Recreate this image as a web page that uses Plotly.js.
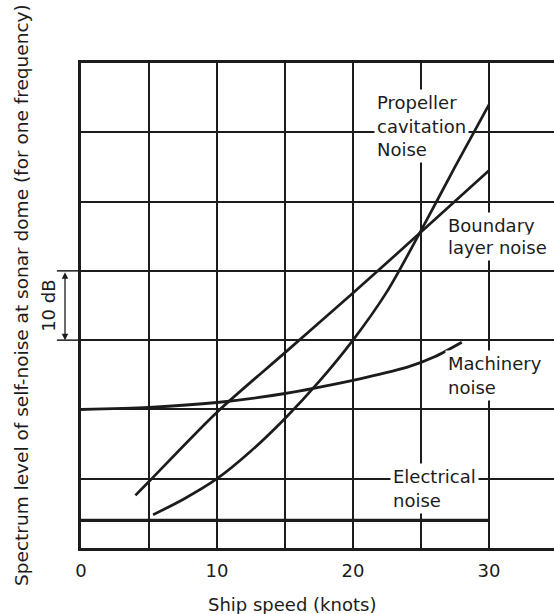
<!DOCTYPE html>
<html>
<head>
<meta charset="utf-8">
<script src="https://cdn.plot.ly/plotly-3.0.1.min.js"></script>
<style>html,body{margin:0;padding:0;background:#fff;}#chart{width:554px;height:614px;}</style>
</head>
<body>
<div id="chart"></div>
<script>
// Ship speed (knots) and self-noise level (dB, relative; grid = 10 dB)
const propellerX = [5.3, 7.5, 10, 12.5, 15, 17.5, 20, 22.5, 25, 27.5, 30];
const propellerY = [4.8, 7.0, 10.0, 14.0, 18.7, 24.0, 30.0, 37.0, 45.8, 55.0, 64.0];
const boundaryX = [4, 5, 10, 15, 20, 25, 30];
const boundaryY = [7.6, 9.6, 19.6, 28.2, 36.8, 45.6, 54.5];
const machineryX = [0, 5, 10, 15, 20, 22, 24, 26, 28];
const machineryY = [20.0, 20.3, 21.0, 22.3, 24.2, 25.1, 26.1, 27.6, 29.7];
const electricalX = [0, 30];
const electricalY = [4, 4];
const xTicks = [0, 10, 20, 30];
const labelLines = {
  propeller: ['Propeller', 'cavitation', 'Noise'],
  boundary: ['Boundary', 'layer noise'],
  machinery: ['Machinery', 'noise'],
  electrical: ['Electrical', 'noise']
};
const xTitle = 'Ship speed (knots)';
const yTitle = 'Spectrum level of self-noise at sonar dome (for one frequency)';
const scaleLabel = '10 dB';

const ink = '#1c1c1c';
const font = {family: 'DejaVu Sans', size: 18, color: ink};
const curve = (x, y, w) => ({x, y, type: 'scatter', mode: 'lines',
  line: {color: ink, width: w, shape: 'spline', smoothing: 0.8}, hoverinfo: 'skip', showlegend: false});

const data = [
  curve(electricalX, electricalY, 3.2),
  curve(machineryX, machineryY, 2.9),
  curve(boundaryX, boundaryY, 2.7),
  curve(propellerX, propellerY, 2.7)
];

// one annotation per text line so the white background only hides the grid under the words
const labelBlock = (x, ys, lines) => lines.map((t, i) => ({x, y: ys[i], xref: 'x', yref: 'y', text: t,
  showarrow: false, xanchor: 'left', yanchor: 'middle', align: 'left', bgcolor: '#fff', borderpad: 2, font}));

const layout = {
  width: 554, height: 614,
  margin: {l: 81, r: 0, t: 63, b: 66},
  paper_bgcolor: '#fff', plot_bgcolor: '#fff',
  font,
  xaxis: {
    range: [0, 34.78], tickvals: xTicks, ticktext: xTicks.map(String),
    ticks: 'outside', ticklen: 4, tickcolor: 'rgba(0,0,0,0)',
    showgrid: true, gridcolor: ink, gridwidth: 2,
    minor: {dtick: 5, tick0: 0, showgrid: true, gridcolor: ink, gridwidth: 2},
    showline: true, mirror: true, linecolor: ink, linewidth: 3,
    zeroline: false, tickfont: font
  },
  yaxis: {
    range: [0, 70], dtick: 10, showticklabels: false,
    showgrid: true, gridcolor: ink, gridwidth: 2,
    showline: true, mirror: false, linecolor: ink, linewidth: 3,
    zeroline: false
  },
  shapes: [
    {type: 'line', xref: 'paper', yref: 'paper', x0: -0.051, x1: 0, y0: 30/70, y1: 30/70, line: {color: ink, width: 1.5}},
    {type: 'line', xref: 'paper', yref: 'paper', x0: -0.051, x1: 0, y0: 40/70, y1: 40/70, line: {color: ink, width: 1.5}}
  ],
  annotations: [
    ...labelBlock(21.52, [64.33, 60.8, 57.55], labelLines.propeller),
    ...labelBlock(26.76, [46.54, 43.32], labelLines.boundary),
    ...labelBlock(26.76, [26.68, 23.22], labelLines.machinery),
    ...labelBlock(22.72, [10.39, 6.87], labelLines.electrical),
    {x: -0.0338, y: 30/70, xref: 'paper', yref: 'paper', ax: 0, ay: -69.3, axref: 'pixel', ayref: 'pixel',
     text: '', showarrow: true, arrowhead: 2, arrowside: 'end+start', arrowsize: 1, arrowwidth: 1.3,
     arrowcolor: ink, standoff: 0, startstandoff: 0},
    {x: -0.069, y: 35/70, xref: 'paper', yref: 'paper', text: scaleLabel, textangle: -90,
     showarrow: false, xanchor: 'center', yanchor: 'middle', font},
    {x: 0.446, y: -0.1175, xref: 'paper', yref: 'paper', text: xTitle, showarrow: false,
     xanchor: 'center', yanchor: 'middle', font},
    {x: -0.127, y: 0.5216, xref: 'paper', yref: 'paper', text: yTitle, textangle: -90, showarrow: false,
     xanchor: 'center', yanchor: 'middle', font: Object.assign({}, font, {size: 18.5})}
  ]
};

Plotly.newPlot('chart', data, layout, {displayModeBar: false, staticPlot: true});
</script>
</body>
</html>
